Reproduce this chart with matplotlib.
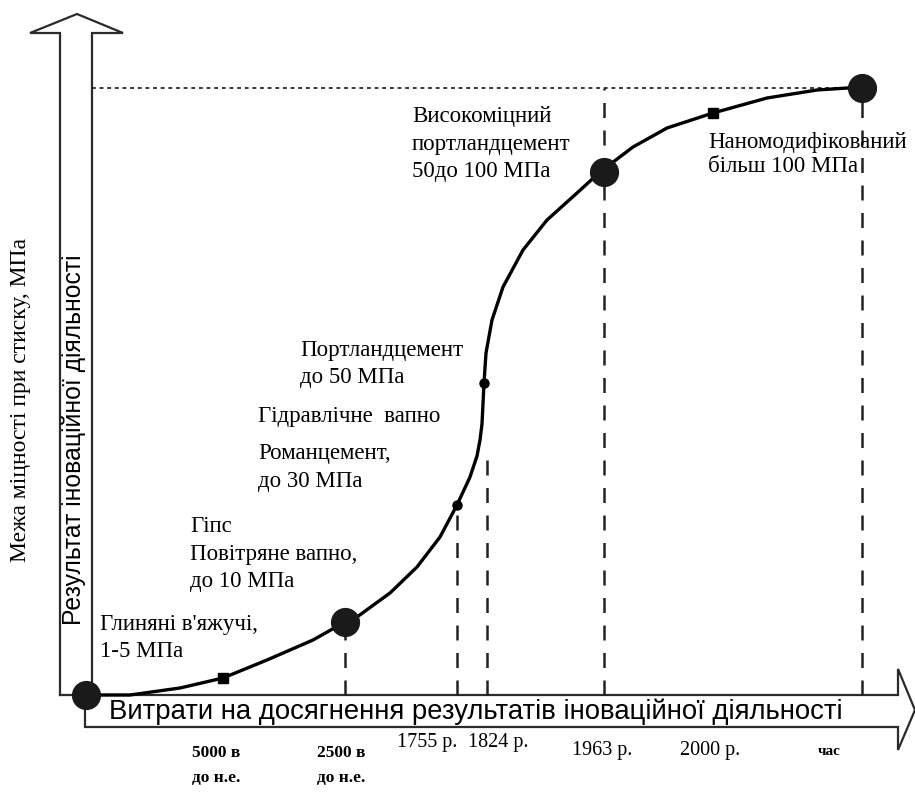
import matplotlib
matplotlib.use("Agg")
import matplotlib.pyplot as plt

# ---------------- data (x: progress along time axis, y: strength / result) ----
curve_x = [0, 44, 94, 137, 181, 227, 259, 271, 304, 331, 354, 371, 384, 391, 394,
           396, 398, 400, 406, 417, 437, 461, 491, 514, 547, 581, 627, 681, 731, 777]
curve_y = [1, 1, 8, 18, 36, 56, 74, 79, 103, 129, 159, 191, 219, 240, 256,
           272, 313, 343, 376, 409, 446, 476, 503, 524, 549, 568, 583, 598, 606, 609]

big_x = [0, 259, 518, 776]
big_y = [1, 74, 524, 608]

small_x = [137, 371, 398, 627]
small_y = [18, 191, 313, 583]
small_marker = ["s", "o", "o", "s"]

drop_x = [259, 371, 401, 518, 776]
drop_top = [74, 191, 246, 608, 608]

level_y = 608

stage_labels = [
    "Глиняні в'яжучі,\n1-5 МПа",
    "Гіпс\nПовітряне вапно,\nдо 10 МПа",
    "Гідравлічне  вапно",
    "Романцемент,\nдо 30 МПа",
    "Портландцемент\nдо 50 МПа",
    "Високоміцний\nпортландцемент\n50до 100 МПа",
    "Наномодифікований\nбільш 100 МПа",
]
# anchor = baseline of the last line of each label
stage_pos = [(14, 39), (104, 109), (172, 274), (172, 209), (214, 313), (326, 519), (622, 524)]
stage_spacing = [1.35, 1.4, 1.4, 1.45, 1.4, 1.4, 1.2]

time_labels = ["5000 в\nдо н.е.", "2500 в\nдо н.е.", "1755 р.", "1824 р.",
               "1963 р.", "2000 р.", "час"]
time_pos = [(106, -86), (231, -86), (311, -51), (382, -51), (486, -59), (594, -59), (732, -59)]
time_bold = [True, True, False, False, False, False, True]
time_size = [12.5, 12.5, 14.5, 14.5, 14.5, 14.5, 11]

y_title_outer = "Межа міцності при стиску, МПа"
y_title_inner = "Результат іноваційної діяльності"
x_title = "Витрати на досягнення результатів іноваційної діяльності"

# ---------------- figure ----------------
fig = plt.figure(figsize=(9.15, 7.92), dpi=100)
ax = fig.add_axes([0, 0, 1, 1])
ax.set_xlim(-86, 829)
ax.set_ylim(-96, 696)
ax.axis("off")

frame_col = "#2b2b2b"
# vertical arrow
vx = [-26, -26, -56, -9, 37, 6, 6]
vy = [1, 663, 663, 682, 663, 663, 1]
ax.plot(vx, vy, color=frame_col, lw=1.6, solid_joinstyle="miter")
ax.plot([-26, 0], [1, 1], color=frame_col, lw=1.6)
# horizontal arrow
hx = [6, 812, 812, 829, 812, 812, -1, -1]
hy = [1, 1, 27, -14, -54, -31, -31, -14]
ax.plot(hx, hy, color=frame_col, lw=1.6, solid_joinstyle="miter")

# dotted level line
ax.plot([6, 779], [level_y, level_y], color="black", lw=1.1, ls=(0, (2.5, 2.5)))

# dashed drop lines
for x, t in zip(drop_x, drop_top):
    ax.plot([x, x], [1, t], color="#222222", lw=1.8, ls=(0, (6, 5)), zorder=2)

# curve
ax.plot(curve_x, curve_y, color="black", lw=2.4, zorder=3,
        solid_capstyle="round", solid_joinstyle="round")
ax.scatter(big_x, big_y, s=400, color="#1a1a1a", zorder=4)
for x, y, m in zip(small_x, small_y, small_marker):
    ax.plot([x], [y], marker=m, ms=6.5, color="black", zorder=4, ls="none")

serif = ["Liberation Serif", "DejaVu Serif"]
sans = ["Liberation Sans", "DejaVu Sans"]
for txt, (x, y), ls in zip(stage_labels, stage_pos, stage_spacing):
    ax.text(x, y, txt, family=serif, fontsize=16.5, ha="left", va="baseline",
            linespacing=ls, color="black")

for txt, (x, y), b, fs in zip(time_labels, time_pos, time_bold, time_size):
    ax.text(x, y, txt, family=serif, fontsize=fs, ha="left", va="baseline",
            fontweight="bold" if b else "normal", linespacing=1.75, color="black")

ax.text(-65, 296, y_title_outer, family=serif, fontsize=17, rotation=90,
        ha="center", va="center", color="black")
ax.text(-12, 256, y_title_inner, family=sans,
        fontsize=17.8, rotation=90, ha="center", va="center", color="black")
ax.text(390, -16, x_title, family=sans,
        fontsize=19.8, ha="center", va="center", color="black")

fig.savefig("out.png", dpi=100)
